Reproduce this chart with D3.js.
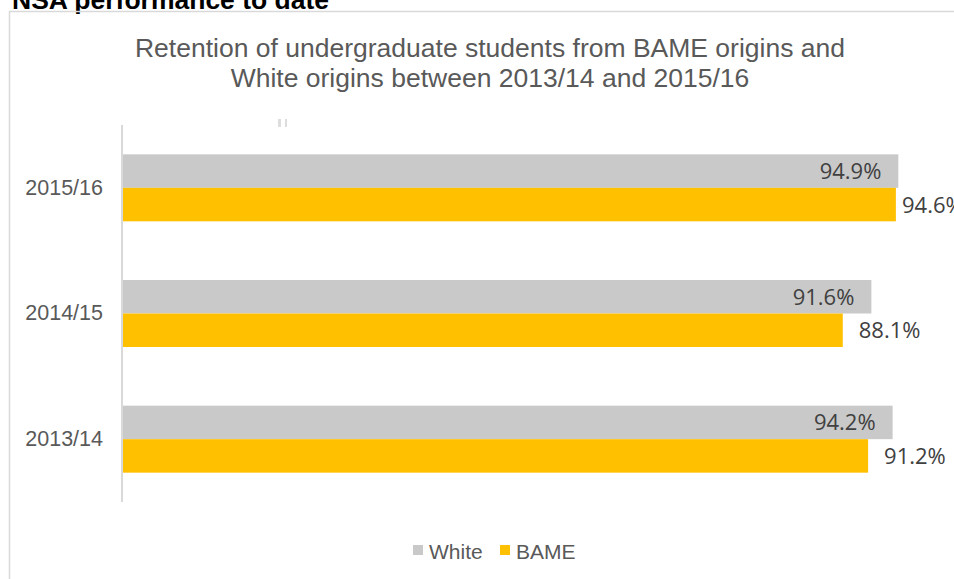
<!DOCTYPE html>
<html>
<head>
<meta charset="utf-8">
<script src="https://cdn.jsdelivr.net/npm/d3@7/dist/d3.min.js"></script>
<style>
  html, body { margin: 0; padding: 0; background: #fff; }
  svg { display: block; }
</style>
</head>
<body>
<script>
// Retention rates by academic year, White vs BAME undergraduates
const years = ["2015/16", "2014/15", "2013/14"];
const seriesNames = ["White", "BAME"];
const whiteValues = [94.9, 91.6, 94.2];
const bameValues = [94.6, 88.1, 91.2];
const seriesColors = ["#C9C9C9", "#FFC000"];
const titleLines = [
  "Retention of undergraduate students from BAME origins and",
  "White origins between 2013/14 and 2015/16"
];
const sectionHeading = "NSA performance to date";

const W = 954, H = 579;
const svg = d3.select("body").append("svg")
  .attr("width", W).attr("height", H);

// Section heading, partly cut off by the top edge
svg.append("text")
  .attr("x", 12).attr("y", 9)
  .attr("font-family", "Arial, 'Liberation Sans', sans-serif")
  .attr("font-weight", "bold")
  .attr("font-size", 26.5)
  .attr("fill", "#000")
  .text(sectionHeading);

// Chart frame (open on the right and bottom)
svg.append("path")
  .attr("d", `M9.5,${H} V11.5 H${W}`)
  .attr("fill", "none")
  .attr("stroke", "#D9D9D9")
  .attr("stroke-width", 1.5);

// Title
svg.append("text")
  .attr("x", 490).attr("y", 57)
  .attr("text-anchor", "middle")
  .attr("font-family", "Arial, 'Liberation Sans', sans-serif")
  .attr("font-size", 26.5)
  .attr("fill", "#595959")
  .selectAll("tspan").data(titleLines).join("tspan")
  .attr("x", 490)
  .attr("dy", (d, i) => i === 0 ? 0 : 30)
  .text(d => d);

// Scales
const plotTop = 125, plotBottom = 502, plotLeft = 123;
const x = d3.scaleLinear().domain([0, 100]).range([plotLeft, 940]);
const y = d3.scaleBand().domain(years)
  .range([plotTop, plotBottom])
  .paddingInner(0.467).paddingOuter(0.2335);
const ySub = d3.scaleBand().domain(seriesNames).range([0, y.bandwidth()]);
const color = d3.scaleOrdinal().domain(seriesNames).range(seriesColors);

const rows = years.map((yr, i) => ({
  year: yr,
  values: [
    { series: "White", value: whiteValues[i] },
    { series: "BAME", value: bameValues[i] }
  ]
}));

// Bars
const groups = svg.append("g").selectAll("g").data(rows).join("g")
  .attr("transform", d => `translate(0,${y(d.year)})`);

groups.selectAll("rect").data(d => d.values).join("rect")
  .attr("x", x(0))
  .attr("y", d => ySub(d.series))
  .attr("width", d => x(d.value) - x(0))
  .attr("height", ySub.bandwidth())
  .attr("fill", d => color(d.series));

// Value labels: inside end for White, outside end for BAME
// (outside labels are pulled back so they start no further right than labelMaxX)
const labelMaxX = 902;
groups.selectAll("text.val").data(d => d.values).join("text")
  .attr("class", "val")
  .attr("x", d => d.series === "White"
    ? x(d.value) - 17
    : Math.min(x(d.value) + 16, labelMaxX))
  .attr("y", d => ySub(d.series) + ySub.bandwidth() / 2 + 8)
  .attr("text-anchor", d => d.series === "White" ? "end" : "start")
  .attr("font-family", "'Open Sans', sans-serif")
  .attr("font-size", 22)
  .attr("fill", "#404040")
  .text(d => d.value.toFixed(1) + "%");

// Category axis
const yAxis = d3.axisLeft(y).tickSize(0).tickPadding(19);
const axisG = svg.append("g")
  .attr("transform", `translate(${plotLeft - 1},0)`)
  .call(yAxis);
axisG.select(".domain").attr("stroke", "#D9D9D9").attr("stroke-width", 2)
  .attr("d", `M0,${plotTop}V${plotBottom}`);
axisG.selectAll(".tick text")
  .attr("font-family", "Arial, 'Liberation Sans', sans-serif")
  .attr("font-size", 21.5)
  .attr("fill", "#595959");

// Small plot-area grip mark
svg.append("g").selectAll("rect").data([0, 1]).join("rect")
  .attr("x", d => 278 + d * 7).attr("y", 119)
  .attr("width", d => d === 0 ? 3 : 2).attr("height", 8)
  .attr("fill", "#DDDDDD");

// Legend
const legend = svg.append("g").attr("transform", "translate(413,545)");
const items = legend.selectAll("g").data(seriesNames).join("g")
  .attr("transform", (d, i) => `translate(${i * 87},0)`);
items.append("rect")
  .attr("width", 10).attr("height", 10)
  .attr("fill", d => color(d));
items.append("text")
  .attr("x", 16).attr("y", 14)
  .attr("font-family", "Arial, 'Liberation Sans', sans-serif")
  .attr("font-size", 21)
  .attr("fill", "#595959")
  .text(d => d);
</script>
</body>
</html>
